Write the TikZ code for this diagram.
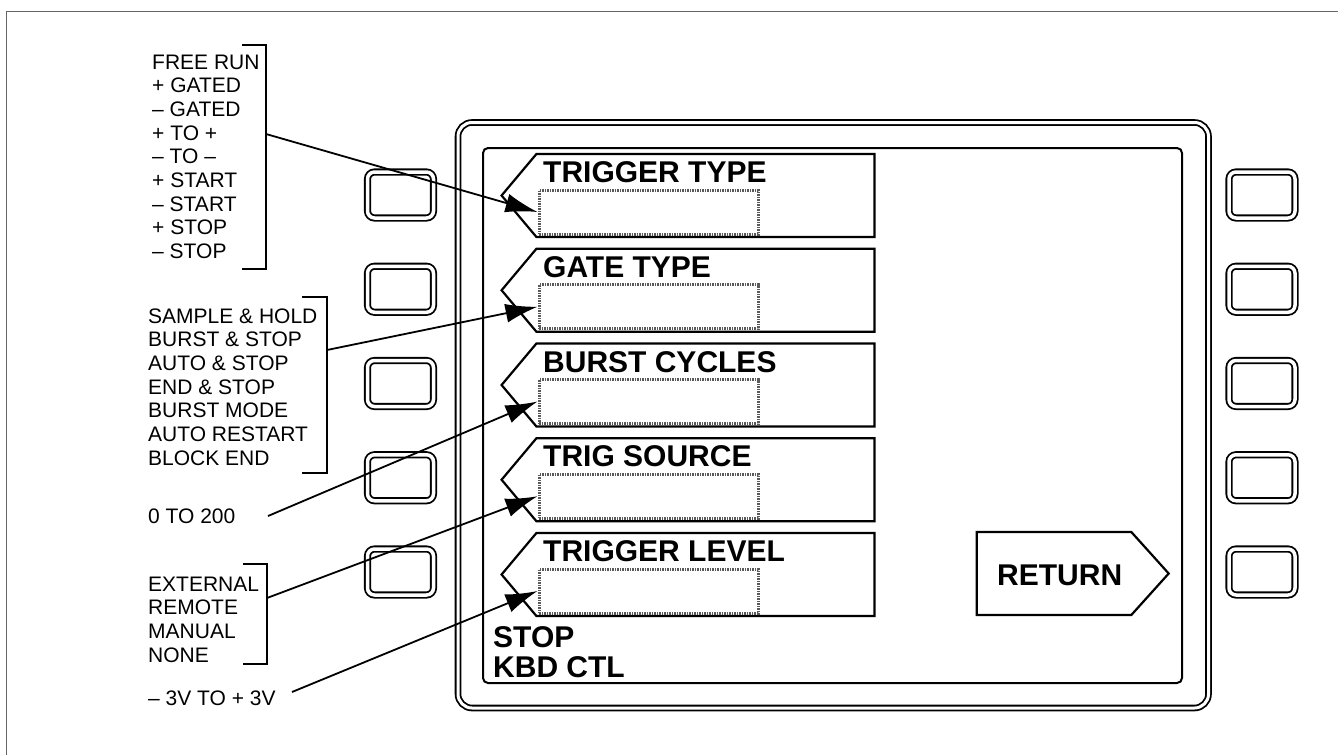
\documentclass[tikz,border=0pt]{standalone}
\usepackage{fontspec}
\setmainfont{Liberation Sans}
\usetikzlibrary{arrows.meta,positioning,shapes.symbols}

\begin{document}
\begin{tikzpicture}[x=1pt, y=-1pt,
  key/.style={draw, rounded corners=7pt, line width=1.8pt, double, double distance=3.5pt, minimum width=66pt, minimum height=46pt, inner sep=0pt},
  menu/.style={draw, line width=2.2pt, signal, signal to=west, signal pointer angle=100, minimum width=373pt, minimum height=83pt, inner sep=0pt},
  field/.style={draw=black!65, line width=3pt, dash pattern=on 1.5pt off 1pt, minimum width=219pt, minimum height=44pt, inner sep=0pt},
  ttl/.style={font=\fontsize{30}{30}\selectfont\bfseries, anchor=base west, inner sep=0pt},
  opts/.style={font=\fontsize{21}{23.7}\selectfont, align=left, anchor=base west, inner sep=0pt},
  lead/.style={line width=1.8pt, -{Latex[length=32pt, width=19pt]}},
  brk/.style={line width=1.5pt}
]
\useasboundingbox (0,0) rectangle (1338,755);
\draw[black!60, line width=0.8pt] (6,755) -- (6,11) -- (1338,11);

% bezel and screen
\draw[line width=1.8pt, double, double distance=3pt, rounded corners=14pt] (458,122.5) rectangle (1208.5,708);
\draw[line width=2pt, rounded corners=5pt] (483,148) rectangle (1182,683);

% soft keys
\foreach \i in {1,...,5} {
  \pgfmathsetmacro\ky{195+94.25*(\i-1)}
  \node[key] (lkey\i) at (400.5,\ky) {};
  \node[key] (rkey\i) at (1262,\ky) {};
}

% menu fields
\foreach \i/\t in {1/TRIGGER TYPE, 2/GATE TYPE, 3/BURST CYCLES, 4/TRIG SOURCE, 5/TRIGGER LEVEL} {
  \pgfmathsetmacro\my{154+94.75*(\i-1)}
  \node[menu] (menu\i) at (705.5,\my+41.5) {};
  \node[ttl] (ttl\i) at (543,\my+28.5) {\t};
  \node[field] (fld\i) at (648.5,\my+58) {};
}

\node[menu, signal to=east, signal pointer angle=96, minimum width=192pt] (ret) at (1054,573.5) {};
\node[ttl] (rettxt) at (997,585) {RETURN};
\node[ttl] (status) at (493,647) {STOP};
\node[ttl, below=0pt of status.base west, anchor=base west, yshift=-30pt] (kbd) {KBD CTL};

% option lists (anchored at last baseline)
\node[opts] (trigopts) at (152,258.6) {FREE RUN\\+ GATED\\– GATED\\+ TO +\\– TO –\\+ START\\– START\\+ STOP\\– STOP};
\node[opts] (gateopts) at (148,465.2) {SAMPLE \& HOLD\\BURST \& STOP\\AUTO \& STOP\\END \& STOP\\BURST MODE\\AUTO RESTART\\BLOCK END};
\node[opts] (cycopts) at (148,523) {0 TO 200};
\node[opts] (srcopts) at (148,662.1) {EXTERNAL\\REMOTE\\MANUAL\\NONE};
\node[opts] (lvlopts) at (148,705) {– 3V TO + 3V};

% brackets
\draw[brk] (242,45) -- (266,45) -- (266,269) -- (242,269);
\draw[brk] (302,297) -- (327,297) -- (327,473) -- (302,473);
\draw[brk] (243,564) -- (267,564) -- (267,664) -- (243,664);
\coordinate (trigbrk) at (266,134);
\coordinate (gatebrk) at (327,350);
\coordinate (cycend) at (268,516);
\coordinate (srcbrk) at (267,598);
\coordinate (lvlend) at (292,692);

\foreach \a/\b in {trigbrk/fld1, gatebrk/fld2, cycend/fld3, srcbrk/fld4, lvlend/fld5}
  \draw[lead] (\a) -- (\b.west);
\end{tikzpicture}
\end{document}
